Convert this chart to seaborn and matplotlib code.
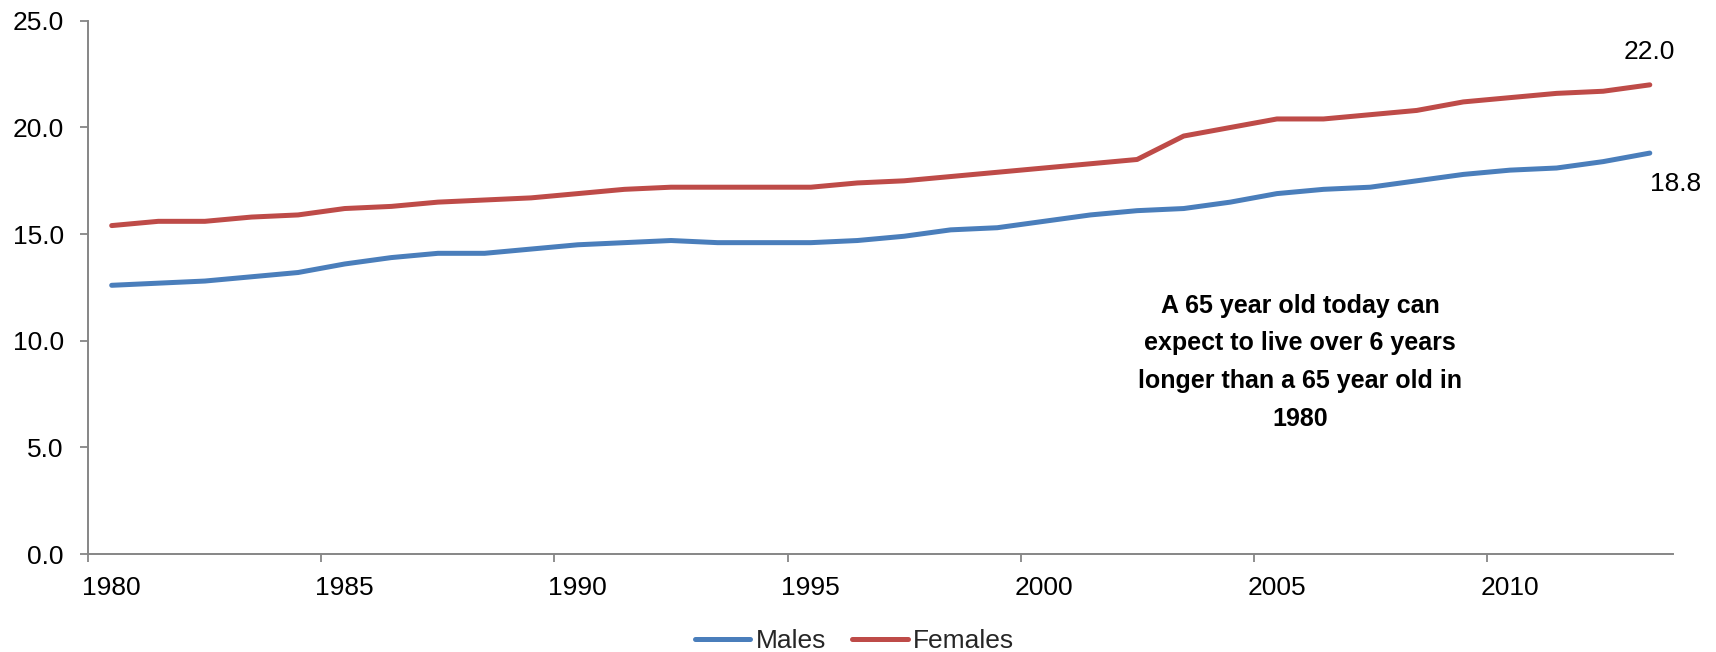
import matplotlib
matplotlib.use("Agg")
import matplotlib.pyplot as plt
import numpy as np
import pandas as pd
import seaborn as sns

# Life expectancy at age 65 (years), 1980-2013
years = list(range(1980, 2014))
males = [12.6, 12.7, 12.8, 13.0, 13.2, 13.6, 13.9, 14.1, 14.1, 14.3,
         14.5, 14.6, 14.7, 14.6, 14.6, 14.6, 14.7, 14.9, 15.2, 15.3,
         15.6, 15.9, 16.1, 16.2, 16.5, 16.9, 17.1, 17.2, 17.5, 17.8,
         18.0, 18.1, 18.4, 18.8]
females = [15.4, 15.6, 15.6, 15.8, 15.9, 16.2, 16.3, 16.5, 16.6, 16.7,
           16.9, 17.1, 17.2, 17.2, 17.2, 17.2, 17.4, 17.5, 17.7, 17.9,
           18.1, 18.3, 18.5, 19.6, 20.0, 20.4, 20.4, 20.6, 20.8, 21.2,
           21.4, 21.6, 21.7, 22.0]
series_names = ["Males", "Females"]
year_labels = [1980, 1985, 1990, 1995, 2000, 2005, 2010]
y_ticks = [0, 5, 10, 15, 20, 25]
note = ("A 65 year old today can\nexpect to live over 6 years\n"
        "longer than a 65 year old in\n1980")

sns.set_theme(style="white")
plt.rcParams["font.family"] = ["Liberation Sans", "DejaVu Sans"]

df = pd.DataFrame({
    "Year": years * 2,
    "Years": males + females,
    "Sex": [series_names[0]] * len(years) + [series_names[1]] * len(years),
})

palette = {"Males": "#4A7EBB", "Females": "#BE4B48"}
axis_grey = "#868686"
fs = 19

fig = plt.figure(figsize=(17.16, 6.52), dpi=100)
ax = fig.add_axes([0.0515, 0.1503, 0.9235, 0.8177])

sns.lineplot(data=df, x="Year", y="Years", hue="Sex", palette=palette,
             linewidth=3.6, ax=ax, legend=True)
for ln in ax.get_lines():
    ln.set_solid_capstyle("round")

ax.set_xlim(years[0] - 0.5, years[-1] + 0.5)
ax.set_ylim(0, 25)
ax.set_xlabel("")
ax.set_ylabel("")

# Y axis
ax.set_yticks(y_ticks)
ax.set_yticklabels([f"{v:.1f}" for v in y_ticks])
ax.tick_params(axis="y", which="major", direction="out", length=5.8,
               width=1.3, color=axis_grey, pad=12, labelsize=fs,
               labelcolor="black", left=True)

# X axis: labels at category centres, tick marks between categories
ax.set_xticks(year_labels)
ax.set_xticklabels([str(y) for y in year_labels])
ax.set_xticks([y - 0.5 for y in year_labels], minor=True)
ax.tick_params(axis="x", which="major", length=0, pad=15.5,
               labelsize=fs, labelcolor="black")
ax.tick_params(axis="x", which="minor", direction="out", length=5.6,
               width=1.3, color=axis_grey, bottom=True)

for side in ["top", "right"]:
    ax.spines[side].set_visible(False)
for side in ["left", "bottom"]:
    ax.spines[side].set_color(axis_grey)
    ax.spines[side].set_linewidth(1.4)
ax.grid(False)

# End-point value labels
ax.annotate(f"{females[-1]:.1f}", xy=(years[-1], females[-1]),
            xytext=(0, 24), textcoords="offset points",
            ha="center", va="center", fontsize=fs, color="black")
ax.annotate(f"{males[-1]:.1f}", xy=(years[-1], males[-1]),
            xytext=(0, -22), textcoords="offset points",
            ha="left", va="center", fontsize=fs, color="black")

# Note
ax.text(2005.5, 9.0, note, ha="center", va="center", fontsize=18,
        fontweight="bold", linespacing=1.72, color="black")

# Legend below the axes
handles, labels = ax.get_legend_handles_labels()
ax.legend(handles, labels, loc="center", bbox_to_anchor=(0.498, 0.017),
          bbox_transform=fig.transFigure, ncol=2, frameon=False,
          fontsize=fs, handlelength=2.1, handletextpad=0.2,
          columnspacing=1.0, borderaxespad=0)

fig.savefig("out.png", dpi=100)
